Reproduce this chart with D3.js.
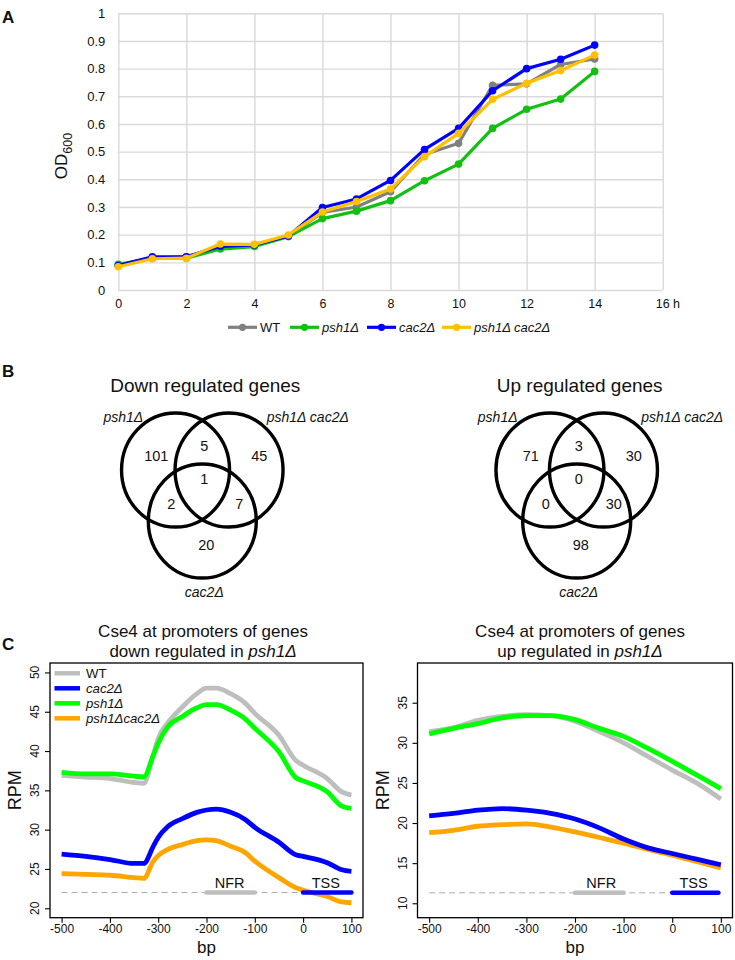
<!DOCTYPE html>
<html><head><meta charset="utf-8">
<script src="https://cdn.jsdelivr.net/npm/d3@7"></script>
<style>
body{margin:0;background:#fff}
svg{display:block}
text{font-family:"Liberation Sans",Arial,Helvetica,sans-serif;fill:#111}
</style>
</head><body>
<svg id="fig" width="735" height="960"></svg>
<script>
// ---------------- Panel A data ----------------
const hours = [0,1,2,3,4,5,6,7,8,9,10,11,12,13,14];
const strainNames = ["WT","psh1Δ","cac2Δ","psh1Δ cac2Δ"];
const strainItalic = [false,true,true,true];
const odWT      = [0.090,0.115,0.120,0.155,0.160,0.195,0.280,0.300,0.355,0.490,0.530,0.740,0.745,0.815,0.835];
const odPsh1    = [0.093,0.115,0.115,0.148,0.157,0.193,0.258,0.285,0.323,0.395,0.455,0.584,0.653,0.690,0.790];
const odCac2    = [0.088,0.120,0.120,0.158,0.163,0.195,0.298,0.329,0.396,0.508,0.584,0.720,0.800,0.834,0.885];
const odDouble  = [0.084,0.113,0.115,0.166,0.165,0.199,0.282,0.320,0.365,0.482,0.566,0.689,0.747,0.793,0.849];
const xTicksA = [0,2,4,6,8,10,12,14,16];
const xTickLabelsA = ["0","2","4","6","8","10","12","14","16"];
const yTicksA = [0,0.1,0.2,0.3,0.4,0.5,0.6,0.7,0.8,0.9,1];
const yTickLabelsA = ["0","0.1","0.2","0.3","0.4","0.5","0.6","0.7","0.8","0.9","1"];
const colorsA = ["#808080","#12c012","#0000ff","#ffc000"];

// ---------------- Panel B data ----------------
const vennSets = ["psh1Δ","psh1Δ cac2Δ","cac2Δ"];
// regions: onlyA, AB, onlyB, ABC, AC, BC, onlyC
const vennDown = [101,5,45,1,2,7,20];
const vennUp   = [71,3,30,0,0,30,98];
const vennTitles = ["Down regulated genes","Up regulated genes"];

// ---------------- Panel C data ----------------
const profileNames = ["WT","cac2Δ","psh1Δ","psh1Δcac2Δ"];
const profileItalic = [false,true,true,true];
const profileColors = ["#bebebe","#0000ff","#00ff00","#ffa500"];
const bpLeft = [-500,-450,-400,-350,-330,-310,-300,-280,-250,-220,-200,-180,-150,-120,-100,-50,-15,0,50,80,100];
const downWT    = [36.9,36.7,36.5,36.0,35.9,39.5,41.6,43.6,45.6,47.3,48.0,48.0,47.3,46.1,44.8,42.0,38.8,38.2,36.5,34.8,34.4];
const downCac2  = [26.9,26.6,26.2,25.7,25.7,27.9,29.0,30.4,31.4,32.2,32.5,32.6,32.2,31.3,30.3,28.4,26.8,26.6,25.8,24.9,24.7];
const downPsh1  = [37.3,37.1,37.1,36.8,36.7,39.5,41.0,43.1,44.4,45.5,45.9,45.9,45.2,44.1,42.9,39.9,36.6,36.2,34.8,33.0,32.7];
const downDouble= [24.4,24.3,24.2,23.9,23.8,26.0,26.7,27.5,28.1,28.6,28.7,28.6,27.9,27.1,26.0,23.9,22.6,22.3,21.5,20.8,20.7];
const bpRight = [-500,-450,-400,-350,-300,-250,-200,-150,-100,-50,0,50,100];
const upWT     = [31.4,31.9,32.8,33.3,33.5,33.4,32.7,31.4,30.0,28.3,26.6,25.0,23.0];
const upCac2   = [20.9,21.2,21.6,21.8,21.6,21.2,20.5,19.4,18.0,16.9,16.2,15.5,14.8];
const upPsh1   = [31.1,31.8,32.4,33.1,33.4,33.4,32.9,31.8,30.8,29.3,27.7,26.0,24.3];
const upDouble = [18.8,19.1,19.6,19.8,19.9,19.5,18.9,18.2,17.5,16.7,16.0,15.2,14.4];
const bpTicks = [-500,-400,-300,-200,-100,0,100];
const rpmTicksLeft = [20,25,30,35,40,45,50];
const rpmTicksRight = [10,15,20,25,30,35];
const nfrRange = [-200,-100];
const tssLeft = [0,100];
const tssRight = [0,95];
const baselineLeft = 22.0;
const baselineRight = 11.3;

const svg = d3.select("#fig");
const FONT = '"Liberation Sans",Arial,Helvetica,sans-serif';

// panel letters
[["A",2,23],["B",2,377],["C",2,650]].forEach(([t,x,y])=>{
  svg.append("text").attr("x",x).attr("y",y).attr("font-size",17).attr("font-weight","bold").text(t);
});

// ================= Panel A =================
(function(){
  const x = d3.scaleLinear([0,16],[118.3,662.7]);
  const y = d3.scaleLinear([0,1],[290,13.3]);
  const g = svg.append("g");
  const ya = d3.axisLeft(y).tickValues(yTicksA).tickSize(-(662.7-118.3)).tickPadding(13)
    .tickFormat((d,i)=>yTickLabelsA[i]);
  const gy = g.append("g").attr("transform","translate(118.3,0)").call(ya);
  gy.select(".domain").remove();
  gy.selectAll("line").attr("stroke","#d9d9d9").attr("stroke-width",1.4);
  gy.selectAll("text").attr("font-size",13).attr("font-family",FONT).attr("fill","#222");
  const xa = d3.axisBottom(x).tickValues(xTicksA).tickSize(-(290-13.3)).tickPadding(9)
    .tickFormat((d,i)=>xTickLabelsA[i]);
  const gx = g.append("g").attr("transform","translate(0,290)").call(xa);
  gx.select(".domain").remove();
  gx.selectAll("line").attr("stroke","#d9d9d9").attr("stroke-width",1.4);
  gx.selectAll("text").attr("font-size",12.5).attr("font-family",FONT).attr("fill","#222");
  const last = gx.selectAll(".tick").filter(d=>d===16).select("text");
  last.text(null);
  last.append("tspan").text("16");
  last.append("tspan").text(" h");
  last.attr("text-anchor","start").attr("x",-7.5);
  const yl = g.append("text").attr("transform","translate(67,156) rotate(-90)")
    .attr("text-anchor","middle").attr("font-size",17).attr("fill","#222");
  yl.append("tspan").text("OD");
  yl.append("tspan").text("600").attr("font-size",12.5).attr("dy",5);

  const series = [odWT,odPsh1,odCac2,odDouble];
  const line = d3.line().x((d,i)=>x(hours[i])).y(d=>y(d));
  series.forEach((s,k)=>{
    g.append("path").datum(s).attr("d",line).attr("fill","none")
      .attr("stroke",colorsA[k]).attr("stroke-width",3.2).attr("stroke-linejoin","round");
    g.selectAll(null).data(s).enter().append("circle")
      .attr("cx",(d,i)=>x(hours[i])).attr("cy",d=>y(d)).attr("r",3.8).attr("fill",colorsA[k]);
  });
  const legX = [228,290,367,442];
  const lg = g.append("g");
  strainNames.forEach((n,k)=>{
    lg.append("line").attr("x1",legX[k]).attr("x2",legX[k]+29).attr("y1",327.3).attr("y2",327.3)
      .attr("stroke",colorsA[k]).attr("stroke-width",3.2);
    lg.append("circle").attr("cx",legX[k]+14.5).attr("cy",327.3).attr("r",3.6).attr("fill",colorsA[k]);
    lg.append("text").attr("x",legX[k]+32).attr("y",331.8).attr("font-size",13)
      .attr("font-style",strainItalic[k]?"italic":"normal").attr("fill","#222").text(n);
  });
})();

// ================= Panel B =================
function venn(cx, counts, title){
  const cy = 470, dx = 26.75, dyC = 51, rx = 54, ry = 57;
  const g = svg.append("g");
  g.append("text").attr("x",cx+3).attr("y",391.7).attr("text-anchor","middle")
    .attr("font-size",19).attr("fill","#111").text(title);
  const centers = [[cx-dx,cy],[cx+dx,cy],[cx,cy+dyC]];
  centers.forEach(c=>{
    g.append("ellipse").attr("cx",c[0]).attr("cy",c[1]).attr("rx",rx).attr("ry",ry)
      .attr("fill","none").attr("stroke","#000").attr("stroke-width",3.4);
  });
  const offs = [[-46,-14],[2,-24],[57,-14],[2,9],[-31,34],[37,34],[4,74.5]];
  counts.forEach((v,i)=>{
    g.append("text").attr("x",cx+offs[i][0]).attr("y",cy+offs[i][1]).attr("dy","0.36em")
      .attr("text-anchor","middle").attr("font-size",14.5).attr("fill","#111").text(v);
  });
  const loffs = [[-79,-53],[105.5,-53],[2,122]];
  vennSets.forEach((n,i)=>{
    g.append("text").attr("x",cx+loffs[i][0]).attr("y",cy+loffs[i][1]).attr("dy","0.36em")
      .attr("text-anchor","middle").attr("font-size",14).attr("font-style","italic")
      .attr("fill","#333").text(n);
  });
}
venn(202.3, vennDown, vennTitles[0]);
venn(576.7, vennUp, vennTitles[1]);

// ================= Panel C =================
function profile(opt){
  const {left,right,top,bottom,ydom,bp,series,yticks,tss,base,titleLine2,titleX,legend,nfrLab,tssLab} = opt;
  const x = d3.scaleLinear([-524,124],[left,right]);
  const y = d3.scaleLinear(ydom,[bottom,top]);
  const g = svg.append("g");
  g.append("text").attr("x",titleX).attr("y",636.5).attr("text-anchor","middle").attr("font-size",17).text("Cse4 at promoters of genes");
  const t2 = g.append("text").attr("x",titleX).attr("y",657).attr("text-anchor","middle").attr("font-size",17);
  t2.append("tspan").text(titleLine2 + " regulated in ");
  t2.append("tspan").attr("font-style","italic").text("psh1Δ");
  g.append("rect").attr("x",left).attr("y",top).attr("width",right-left).attr("height",bottom-top)
    .attr("fill","none").attr("stroke","#000").attr("stroke-width",1.3);
  const xa = d3.axisBottom(x).tickValues(bpTicks).tickSize(5).tickPadding(2).tickFormat(d=>String(d));
  const gx = g.append("g").attr("transform",`translate(0,${bottom})`).call(xa);
  gx.select(".domain").remove();
  gx.selectAll("line").attr("stroke","#000").attr("stroke-width",1.1);
  gx.selectAll("text").attr("font-size",12).attr("font-family",FONT).attr("fill","#222");
  const ya = d3.axisLeft(y).tickValues(yticks).tickSize(5).tickFormat(d=>"");
  const gy = g.append("g").attr("transform",`translate(${left},0)`).call(ya);
  gy.select(".domain").remove();
  gy.selectAll("line").attr("stroke","#000").attr("stroke-width",1.1);
  yticks.forEach(v=>{
    g.append("text").attr("transform",`translate(${left-15},${y(v)}) rotate(-90)`).attr("dy","0.35em")
      .attr("text-anchor","middle").attr("font-size",12).attr("fill","#222").text(v);
  });
  g.append("text").attr("x",(left+right)/2).attr("y",953).attr("text-anchor","middle").attr("font-size",17).text("bp");
  g.append("text").attr("transform",`translate(${left-35},${(top+bottom)/2}) rotate(-90)`).attr("dy","0.35em")
    .attr("text-anchor","middle").attr("font-size",18).text("RPM");
  g.append("line").attr("x1",x(-500)).attr("x2",x(100)).attr("y1",y(base)).attr("y2",y(base))
    .attr("stroke","#aaaaaa").attr("stroke-width",1).attr("stroke-dasharray","6,4");
  const line = d3.line().x((d,i)=>x(bp[i])).y(d=>y(d)).curve(d3.curveMonotoneX);
  const order = [0,2,3,1];
  order.forEach(k=>{
    g.append("path").datum(series[k]).attr("d",line).attr("fill","none")
      .attr("stroke",profileColors[k]).attr("stroke-width",4.8).attr("stroke-linejoin","round").attr("stroke-linecap","butt");
  });
  g.append("line").attr("x1",x(nfrRange[0])).attr("x2",x(nfrRange[1])).attr("y1",y(base)).attr("y2",y(base))
    .attr("stroke","#bebebe").attr("stroke-width",4.5).attr("stroke-linecap","round");
  g.append("line").attr("x1",x(tss[0])).attr("x2",x(tss[1])).attr("y1",y(base)).attr("y2",y(base))
    .attr("stroke","#0000ff").attr("stroke-width",4.5).attr("stroke-linecap","round");
  g.append("text").attr("x",x(nfrLab)).attr("y",888).attr("text-anchor","middle").attr("font-size",14.5).attr("fill","#222").text("NFR");
  g.append("text").attr("x",x(tssLab)).attr("y",888).attr("text-anchor","middle").attr("font-size",14.5).attr("fill","#222").text("TSS");
  if(legend){
    profileNames.forEach((n,k)=>{
      const yy = 673.3 + k*15;
      g.append("line").attr("x1",left+4.5).attr("x2",left+30).attr("y1",yy).attr("y2",yy)
        .attr("stroke",profileColors[k]).attr("stroke-width",4.5);
      g.append("text").attr("x",left+36).attr("y",yy+4.6).attr("font-size",13.2)
        .attr("font-style",profileItalic[k]?"italic":"normal").text(n);
    });
  }
}
profile({left:50,right:363,top:663,bottom:917.7,ydom:[18.8,51.2],bp:bpLeft,
  series:[downWT,downCac2,downPsh1,downDouble],yticks:rpmTicksLeft,tss:tssLeft,base:baselineLeft,
  titleLine2:"down",titleX:203,legend:true,nfrLab:-152,tssLab:47});
profile({left:417.5,right:732.5,top:663,bottom:917.7,ydom:[8.2,39.95],bp:bpRight,
  series:[upWT,upCac2,upPsh1,upDouble],yticks:rpmTicksRight,tss:tssRight,base:baselineRight,
  titleLine2:"up",titleX:580,legend:false,nfrLab:-146,tssLab:44});
</script>
</body></html>
